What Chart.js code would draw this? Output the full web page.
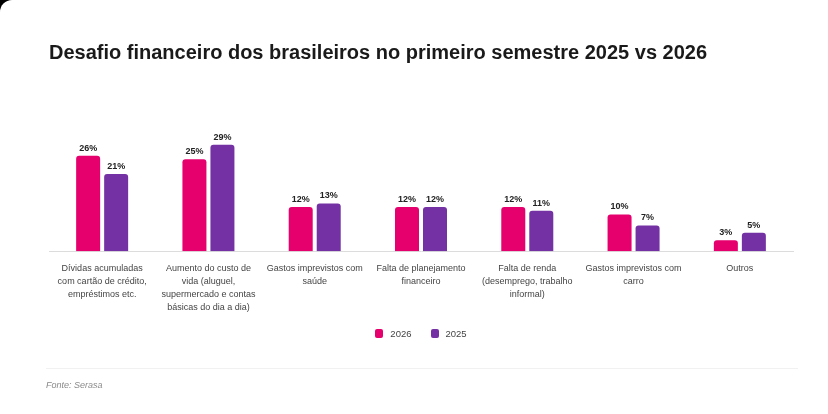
<!DOCTYPE html>
<html>
<head>
    <meta charset="utf-8">
    <title>Desafio financeiro</title>
    <script src="https://cdn.jsdelivr.net/npm/chart.js@4.4.1/dist/chart.umd.min.js"></script>
    <style>
        html, body {
            margin: 0;
            padding: 0;
            background-color: #000000;
        }
        .card {
            position: relative;
            width: 828px;
            height: 414px;
            background-color: #ffffff;
            border-top-left-radius: 12px;
            overflow: hidden;
            font-family: "Liberation Sans", Arial, sans-serif;
        }
        #chartBox {
            position: absolute;
            left: 0;
            top: 0;
            width: 828px;
            height: 414px;
        }
        #legend {
            position: absolute;
            left: 7px;
            top: 327px;
            width: 828px;
            display: flex;
            justify-content: center;
            font-size: 9.5px;
            color: #444444;
            line-height: 13px;
        }
        .legend-item {
            display: flex;
            align-items: center;
            margin: 0 9.5px;
        }
        .legend-box {
            width: 8px;
            height: 9px;
            border-radius: 2px;
            margin-right: 7px;
        }
        .divider {
            position: absolute;
            left: 46px;
            top: 368px;
            width: 752px;
            height: 1px;
            background-color: #f1f1f1;
        }
        .source {
            position: absolute;
            left: 46px;
            top: 380px;
            font-size: 9px;
            font-style: italic;
            color: #8a8a8a;
        }
    </style>
</head>
<body>
    <div class="card">
        <div id="chartBox">
            <canvas id="barChart"></canvas>
        </div>
        <div id="legend"></div>
        <div class="divider"></div>
        <div class="source">Fonte: Serasa</div>
    </div>

    <script>
        // categories (multi-line labels) and series values
        const categories = [
            ['Dívidas acumuladas', 'com cartão de crédito,', 'empréstimos etc.'],
            ['Aumento do custo de', 'vida (aluguel,', 'supermercado e contas', 'básicas do dia a dia)'],
            ['Gastos imprevistos com', 'saúde'],
            ['Falta de planejamento', 'financeiro'],
            ['Falta de renda', '(desemprego, trabalho', 'informal)'],
            ['Gastos imprevistos com', 'carro'],
            ['Outros']
        ];
        const values2026 = [26, 25, 12, 12, 12, 10, 3];
        const values2025 = [21, 29, 13, 12, 11, 7, 5];
        const yMin = 0;
        const yMax = 30;

        const pink = '#e5006d';
        const purple = '#7431a3';
        const fontFamily = '"Liberation Sans", Arial, sans-serif';

        // draws the "26%" labels above each bar
        const valueLabels = {
            id: 'valueLabels',
            afterDatasetsDraw(chart) {
                const ctx = chart.ctx;
                ctx.save();
                ctx.font = 'bold 9px ' + fontFamily;
                ctx.fillStyle = '#222222';
                ctx.textAlign = 'center';
                ctx.textBaseline = 'bottom';
                chart.data.datasets.forEach(function (ds, i) {
                    const meta = chart.getDatasetMeta(i);
                    meta.data.forEach(function (bar, j) {
                        ctx.fillText(ds.data[j] + '%', bar.x, bar.y - 3);
                    });
                });
                ctx.restore();
            }
        };

        document.addEventListener('DOMContentLoaded', function () {
            const ctx = document.getElementById('barChart').getContext('2d');

            const chart = new Chart(ctx, {
                type: 'bar',
                data: {
                    labels: categories,
                    datasets: [{
                        label: '2026',
                        data: values2026,
                        backgroundColor: pink,
                        borderRadius: { topLeft: 3, topRight: 3 },
                        borderSkipped: false
                    }, {
                        label: '2025',
                        data: values2025,
                        backgroundColor: purple,
                        borderRadius: { topLeft: 3, topRight: 3 },
                        borderSkipped: false
                    }]
                },
                plugins: [valueLabels],
                options: {
                    responsive: true,
                    maintainAspectRatio: false,
                    animation: false,
                    categoryPercentage: 0.527,
                    barPercentage: 0.857,
                    layout: {
                        padding: { top: 30, left: 49, right: 35, bottom: 89 }
                    },
                    scales: {
                        x: {
                            grid: { display: false, drawTicks: false },
                            border: { display: true, color: '#dcdcdc', width: 1 },
                            ticks: {
                                padding: 11,
                                color: '#444444',
                                maxRotation: 0,
                                autoSkip: false,
                                font: { family: fontFamily, size: 9, lineHeight: 1.44 }
                            }
                        },
                        y: {
                            display: false,
                            min: yMin,
                            max: yMax
                        }
                    },
                    plugins: {
                        title: {
                            display: true,
                            text: 'Desafio financeiro dos brasileiros no primeiro semestre 2025 vs 2026',
                            align: 'start',
                            color: '#1a1a1a',
                            font: { family: fontFamily, size: 20, weight: 'bold', lineHeight: 1.2 },
                            padding: { top: 11, bottom: 76 }
                        },
                        legend: { display: false },
                        tooltip: { enabled: false }
                    }
                }
            });

            // legend built from the chart's own datasets
            const legend = document.getElementById('legend');
            chart.data.datasets.forEach(function (ds) {
                const item = document.createElement('div');
                item.className = 'legend-item';
                const box = document.createElement('span');
                box.className = 'legend-box';
                box.style.backgroundColor = ds.backgroundColor;
                const text = document.createElement('span');
                text.textContent = ds.label;
                item.appendChild(box);
                item.appendChild(text);
                legend.appendChild(item);
            });
        });
    </script>
</body>
</html>
